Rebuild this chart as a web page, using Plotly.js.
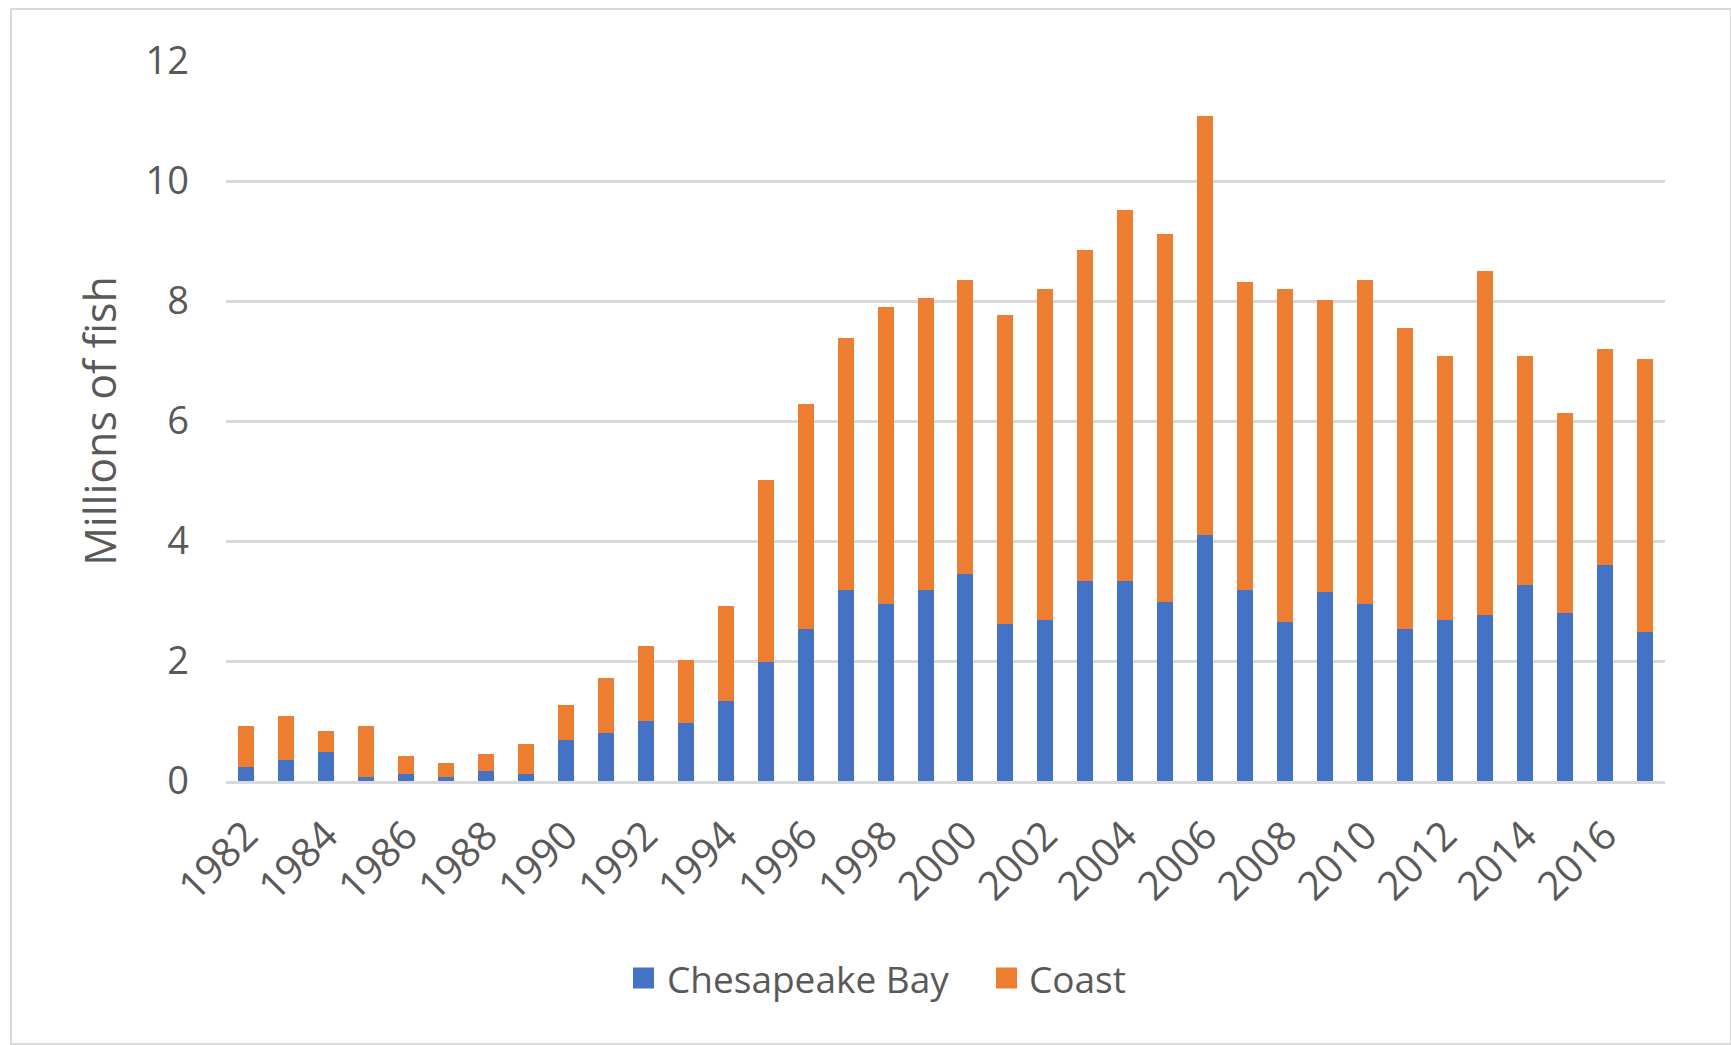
<!DOCTYPE html>
<html>
<head>
<meta charset="utf-8">
<script src="https://cdn.plot.ly/plotly-3.0.1.min.js"></script>
<style>
  html, body { margin: 0; padding: 0; background: #ffffff; }
  #wrap { position: relative; width: 1731px; height: 1045px; }
  #chart { position: absolute; left: 0; top: 0; width: 1731px; height: 1045px; }
  #frame { position: absolute; left: 10px; top: 8px; width: 1718px; height: 1033px;
           border: 2px solid #d9d9d9; pointer-events: none; }
</style>
</head>
<body>
<div id="wrap">
  <div id="chart"></div>
  <div id="frame"></div>
</div>
<script>
// Striped bass harvest, millions of fish, by year and area
const years = [1982, 1983, 1984, 1985, 1986, 1987, 1988, 1989, 1990, 1991, 1992, 1993,
               1994, 1995, 1996, 1997, 1998, 1999, 2000, 2001, 2002, 2003, 2004, 2005,
               2006, 2007, 2008, 2009, 2010, 2011, 2012, 2013, 2014, 2015, 2016, 2017];

const chesapeakeBay = [0.23, 0.35, 0.49, 0.07, 0.11, 0.07, 0.16, 0.11, 0.69, 0.80, 1.00, 0.96,
                       1.34, 1.99, 2.53, 3.18, 2.95, 3.18, 3.45, 2.61, 2.68, 3.33, 3.33, 2.99,
                       4.10, 3.18, 2.65, 3.15, 2.95, 2.53, 2.68, 2.76, 3.26, 2.80, 3.60, 2.49];

const coast = [0.69, 0.73, 0.35, 0.85, 0.30, 0.23, 0.29, 0.50, 0.58, 0.92, 1.25, 1.06,
               1.57, 3.03, 3.75, 4.21, 4.95, 4.87, 4.90, 5.16, 5.52, 5.52, 6.18, 6.13,
               6.98, 5.13, 5.55, 4.86, 5.40, 5.02, 4.40, 5.74, 3.82, 3.33, 3.60, 4.55];

const seriesNames = ['Chesapeake Bay', 'Coast'];
const seriesColors = ['#4472C4', '#ED7D31'];
const yTicks = [0, 2, 4, 6, 8, 10, 12];
const yAxisTitle = 'Millions of fish';

const FONT = '"Open Sans", "Noto Sans", sans-serif';
const TEXT = '#595959';
const GRID = '#d9d9d9';

// plot area in page pixels
const W = 1731, H = 1045;
const plotL = 226, plotR = 1665, plotT = 61, plotB = 781;
const px = x => (x - plotL) / (plotR - plotL);
const py = y => (plotB - y) / (plotB - plotT);

const traces = [chesapeakeBay, coast].map((vals, i) => ({
  type: 'bar',
  name: seriesNames[i],
  x: years,
  y: vals,
  marker: { color: seriesColors[i], line: { width: 0 } },
  showlegend: false,
  hoverinfo: 'x+y+name'
}));

// legend drawn as squares + labels below the axis
const legendItems = [
  { sq: 633, tx: 665 },
  { sq: 996, tx: 1027 }
];
const legendMidY = 978, sqSize = 21;

const shapes = legendItems.map((it, i) => ({
  type: 'rect', xref: 'paper', yref: 'paper',
  x0: px(it.sq), x1: px(it.sq + sqSize),
  y0: py(legendMidY + sqSize / 2), y1: py(legendMidY - sqSize / 2),
  fillcolor: seriesColors[i], line: { width: 0 }
}));

const annotations = legendItems.map((it, i) => ({
  xref: 'paper', yref: 'paper',
  x: px(it.tx), y: py(legendMidY),
  xanchor: 'left', yanchor: 'middle',
  text: seriesNames[i], showarrow: false,
  font: { family: FONT, size: 37, color: TEXT }
}));

const layout = {
  width: W, height: H,
  margin: { l: plotL, r: W - plotR, t: plotT, b: H - plotB, pad: 0 },
  paper_bgcolor: '#ffffff',
  plot_bgcolor: '#ffffff',
  barmode: 'stack',
  bargap: 0.6,
  showlegend: false,
  font: { family: FONT, color: TEXT, size: 38 },
  xaxis: {
    type: 'linear',
    range: [1981.5, 2017.5],
    tickmode: 'linear', tick0: 1982, dtick: 2,
    tickangle: -45,
    tickfont: { family: FONT, size: 40, color: TEXT },
    ticks: '', showgrid: false, zeroline: false,
    showline: true, linecolor: GRID, linewidth: 3,
    ticklabelstandoff: 12,
    fixedrange: true
  },
  yaxis: {
    range: [0, 12],
    tickmode: 'array', tickvals: yTicks, ticktext: yTicks.map(String),
    tickfont: { family: FONT, size: 38, color: TEXT },
    ticks: '', showgrid: true, gridcolor: GRID, gridwidth: 3,
    zeroline: false, showline: false,
    ticklabelstandoff: 36,
    title: { text: yAxisTitle, font: { family: FONT, size: 43, color: TEXT }, standoff: 15 },
    automargin: false,
    fixedrange: true
  },
  shapes: shapes,
  annotations: annotations
};

Plotly.newPlot('chart', traces, layout, { displayModeBar: false, staticPlot: true });
</script>
</body>
</html>
